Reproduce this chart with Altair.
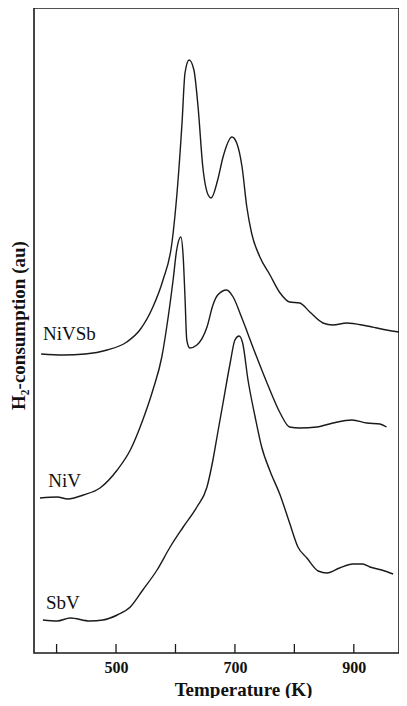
import altair as alt
import pandas as pd

# Temperature (K) and H2-consumption (arbitrary units)
nivsb_t = [374, 411, 448, 485, 518, 540, 562, 579, 594, 603, 611, 616, 623, 631, 638, 646, 655, 660,
           671, 680, 695, 703, 712, 720, 728, 742, 759, 776, 792, 809, 826, 848, 865, 888, 922, 955, 987]
nivsb_h = [301, 300, 301, 305, 313, 325, 348, 375, 412, 465, 532, 582, 595, 585, 548, 488, 460, 457,
           475, 498, 518, 512, 488, 448, 422, 398, 380, 362, 353, 352, 343, 332, 330, 332, 329, 325, 322]

niv_t = [372, 401, 419, 445, 473, 502, 524, 545, 562, 577, 587, 596, 602, 609, 613, 616, 619, 624,
         636, 653, 663, 671, 686, 697, 711, 734, 754, 776, 792, 809, 838, 865, 897, 922, 944, 955]
niv_h = [157, 158, 156, 160, 167, 185, 205, 235, 265, 298, 335, 375, 405, 418, 398, 358, 315, 307,
         310, 328, 350, 360, 365, 358, 338, 302, 272, 242, 228, 227, 228, 232, 235, 232, 231, 228]

sbv_t = [377, 401, 423, 456, 478, 502, 524, 545, 569, 591, 613, 636, 653, 663, 671, 680, 692, 700,
         707, 713, 722, 734, 745, 759, 776, 792, 806, 821, 840, 855, 876, 898, 915, 927, 947, 966]
sbv_h = [35, 34, 37, 34, 35, 40, 48, 65, 85, 108, 128, 148, 168, 195, 222, 252, 292, 315,
         319, 312, 275, 238, 208, 184, 160, 132, 108, 97, 84, 82, 87, 91, 91, 88, 85, 81]

series_names = ["NiVSb", "NiV", "SbV"]
label_t = [377, 386, 382]
label_h = [315, 168, 46]

tick_values = [400, 500, 600, 700, 800, 900]
label_values = [500, 700, 900]

rows = []
for name, ts, hs in zip(series_names, [nivsb_t, niv_t, sbv_t], [nivsb_h, niv_h, sbv_h]):
    for t, h in zip(ts, hs):
        rows.append({"series": name, "T": t, "H": h})
df = pd.DataFrame(rows)
labels_df = pd.DataFrame({"series": series_names, "T": label_t, "H": label_h})
ticks_df = pd.DataFrame({"T": tick_values})

W, H = 365, 645
xscale = alt.Scale(domain=[362, 976], nice=False, zero=False)
yscale = alt.Scale(domain=[2, 647], nice=False, zero=False)
FONT = "Liberation Serif"

lines = alt.Chart(df).mark_line(color="#1a1a1a", strokeWidth=1.4, interpolate="monotone",
                                clip=True).encode(
    x=alt.X("T:Q", scale=xscale,
            axis=alt.Axis(title="Temperature (K)", values=label_values, ticks=False, grid=False,
                          domain=False, labelFont=FONT, labelFontSize=16, labelFontWeight="bold",
                          labelColor="#111", labelPadding=6, labelBaseline="top",
                          titleFont=FONT, titleFontSize=19, titleFontWeight="bold", titleColor="#111",
                          titleX=209, titleY=42, titleBaseline="alphabetic")),
    y=alt.Y("H:Q", scale=yscale,
            axis=alt.Axis(title="H₂-consumption (au)", labels=False, ticks=False, grid=False,
                          domain=False, titleFont=FONT, titleFontSize=19, titleFontWeight="bold",
                          titleColor="#111", titleAngle=270, titleX=-16, titleY=317,
                          titleBaseline="middle", titleAlign="center")),
    detail="series:N",
)

ticks = alt.Chart(ticks_df).mark_rule(color="#1a1a1a", strokeWidth=1.3).encode(
    x=alt.X("T:Q", scale=xscale),
    y=alt.value(H - 9),
    y2=alt.value(H),
)

texts = alt.Chart(labels_df).mark_text(align="left", baseline="alphabetic", font=FONT,
                                        fontSize=19, color="#111").encode(
    x=alt.X("T:Q", scale=xscale),
    y=alt.Y("H:Q", scale=yscale),
    text="series:N",
)

chart = alt.layer(lines, ticks, texts).properties(
    width=W, height=H,
    background="white",
    autosize=alt.AutoSizeParams(type="none"),
    padding={"left": 26, "top": 0, "right": 0, "bottom": 45},
).configure_view(stroke="#1a1a1a", strokeWidth=1.6)

chart.save("out.html", embed_options={"renderer": "svg", "actions": False})
